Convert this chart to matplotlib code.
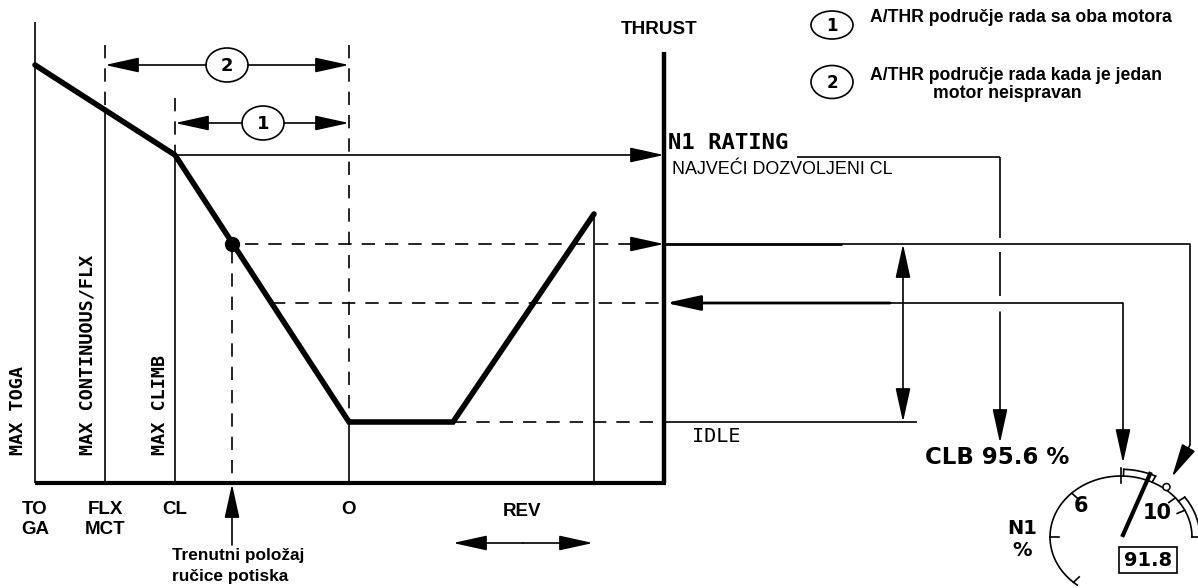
import matplotlib.pyplot as plt
from matplotlib.patches import Ellipse, Rectangle, Circle
import numpy as np

# thrust lever positions (px) and thrust level (px, image y grows down)
lever_x = [35, 105, 175, 349, 453, 594]
thrust_y = [65, 110, 155, 422, 422, 214]
detents = ["TO\nGA", "FLX\nMCT", "CL", "O"]
detent_x = [35, 105, 175, 349]
limit_labels = ["MAX TOGA", "MAX CONTINUOUS/FLX", "MAX CLIMB"]
current_x, current_y = 232, 244
lower_y = 303

fig = plt.figure(figsize=(11.98, 5.88), dpi=100)
ax = fig.add_axes([0, 0, 1, 1])
ax.set_xlim(0, 1198)
ax.set_ylim(588, 0)
ax.axis('off')

K = 'black'
DASH = (0, (8, 6))
mono = 'DejaVu Sans Mono'
sans = 'Liberation Sans'


def line(xs, ys, lw=1.2, ls='-'):
    ax.plot(xs, ys, color=K, lw=lw, ls=ls, solid_capstyle='butt')


def arrow(x0, y0, x1, y1, both=False, lw=1.2):
    style = '<|-|>' if both else '-|>'
    ax.annotate('', xy=(x1, y1), xytext=(x0, y0),
                arrowprops=dict(arrowstyle=style + ',head_length=1.5,head_width=0.33',
                                mutation_scale=14, color=K, lw=lw,
                                shrinkA=0, shrinkB=0))


# axes of the diagram
line([35, 666], [483, 483], lw=3)
line([664, 664], [52, 483], lw=3.2)
line([35, 35], [22, 483])
line([105, 105], [110, 483])
line([175, 175], [155, 483])
line([349, 349], [422, 483])
line([594, 594], [214, 483])

# thrust curve
ax.plot(lever_x, thrust_y, color=K, lw=4, solid_joinstyle='miter', solid_capstyle='round')
ax.plot(current_x, current_y, 'o', color=K, ms=10)

# dashed guides
line([105, 105], [45, 110], ls=DASH)
line([175, 175], [98, 155], ls=DASH)
line([349, 349], [45, 422], ls=DASH)
line([current_x, current_x], [250, 483], ls=DASH)
line([245, 630], [current_y, current_y], ls=DASH)
line([272, 664], [lower_y, lower_y], ls=DASH)
line([453, 664], [422, 422], ls=DASH)
line([664, 917], [422, 422])

# dimension arrows 1 and 2
for y, cx, lab, xl in [(65, 227, "2", 105), (123, 263, "1", 175)]:
    arrow(cx - 21, y, xl, y)
    arrow(cx + 21, y, 349, y)
    ax.add_patch(Ellipse((cx, y), 42, 34, fill=False, ec=K, lw=1.2))
    ax.text(cx, y + 1, lab, ha='center', va='center', fontsize=13,
            fontweight='bold', family='DejaVu Sans')

# N1 rating
arrow(175, 155, 664, 155)
ax.text(668, 143, "N1 RATING", fontsize=16, fontweight='bold', family=mono,
        ha='left', va='center')
ax.text(672, 170, "NAJVEĆI DOZVOLJENI CL", fontsize=12.9, family=sans,
        ha='left', va='center')
line([797, 1000], [157, 157])
line([1000, 1000], [157, 238])
line([1000, 1000], [252, 296])
arrow(1000, 312, 1000, 443)

# current lever thrust lines
arrow(630, current_y, 664, current_y)
line([664, 842], [current_y, current_y], lw=2)
line([842, 1190, 1190], [current_y, current_y, 445])
arrow(1190, 445, 1172, 477)

arrow(890, lower_y, 666, lower_y, lw=2)
line([888, 1123], [lower_y, lower_y])
arrow(1123, lower_y, 1123, 463)

arrow(903, 244, 903, 422, both=True)

# lever position arrow
arrow(current_x, 545, current_x, 484)
ax.text(172, 566, "Trenutni položaj\nručice potiska", fontsize=12.4,
        fontweight='bold', family=sans, ha='left', va='center', linespacing=1.45)

# rev arrow
arrow(523, 543, 453, 543)
arrow(523, 543, 593, 543)

# labels
ax.text(659, 30, "THRUST", fontsize=13.6, fontweight='bold', family=sans,
        ha='center', va='center')
ax.text(716, 437, "IDLE", fontsize=14.5, family=mono, ha='center', va='center')
ax.text(522, 512, "REV", fontsize=13.5, fontweight='bold', family=sans,
        ha='center', va='center')
for x, lab in zip(detent_x, detents):
    ax.text(x, 501, lab, fontsize=13.5, fontweight='bold', family=sans,
            ha='center', va='top', linespacing=1.25)

for x, lab in zip([18, 88, 160], limit_labels):
    ax.text(x, 455, lab, rotation=90, fontsize=13.3, fontweight='bold',
            family=mono, ha='center', va='bottom')

# legend
ax.add_patch(Ellipse((832, 25), 42, 28, fill=False, ec=K, lw=1.2))
ax.text(832, 26, "1", ha='center', va='center', fontsize=12, fontweight='bold')
ax.add_patch(Ellipse((832, 82), 42, 33, fill=False, ec=K, lw=1.2))
ax.text(832, 83, "2", ha='center', va='center', fontsize=12, fontweight='bold')
ax.text(870, 18, "A/THR područje rada sa oba motora", fontsize=12.7,
        fontweight='bold', family=sans, ha='left', va='center')
ax.text(870, 75, "A/THR područje rada kada je jedan", fontsize=12.7,
        fontweight='bold', family=sans, ha='left', va='center')
ax.text(933, 93, "motor neispravan", fontsize=12.7,
        fontweight='bold', family=sans, ha='left', va='center')

# CLB readout
ax.text(997, 458, "CLB 95.6 %", fontsize=16.5, fontweight='bold', family='DejaVu Sans',
        ha='center', va='center')

# N1 gauge
cx, cy, rx, ry = 1121, 537, 71, 61


def ell(t, s=1.0):
    t = np.radians(t)
    return cx + s * rx * np.cos(t), cy - s * ry * np.sin(t)


t = np.linspace(0, 232, 200)
ax.plot(*ell(t), color=K, lw=1.2)
for a, b in [(64, 88), (0, 36)]:
    t = np.linspace(a, b, 40)
    ax.plot(*ell(t, 1.11), color=K, lw=1.2)
for a in [88, 64, 36, 0]:
    p0, p1 = ell(a, 1.0), ell(a, 1.11)
    ax.plot([p0[0], p1[0]], [p0[1], p1[1]], color=K, lw=1.2)
for a in [180, 134, 90, 40, 26, 228]:
    p0, p1 = ell(a, 0.88), ell(a, 1.0)
    ax.plot([p0[0], p1[0]], [p0[1], p1[1]], color=K, lw=1.2)
p0, p1 = ell(90, 1.0), ell(90, 1.13)
ax.plot([p0[0], p1[0]], [p0[1], p1[1]], color=K, lw=1.2)
ax.add_patch(Circle(ell(52, 1.04), 3.5, fill=True, fc='white', ec=K, lw=1.1, zorder=3))
ax.plot([1123, 1150], [535, 474], color=K, lw=3)
ax.text(1081, 506, "6", fontsize=15, fontweight='bold', ha='center', va='center')
ax.text(1157, 513, "10", fontsize=15, fontweight='bold', ha='center', va='center')
ax.text(1022, 528, "N1", fontsize=14, fontweight='bold', ha='center', va='center')
ax.text(1022, 551, "%", fontsize=14, fontweight='bold', ha='center', va='center')
ax.add_patch(Rectangle((1119, 547), 58, 26, fill=True, fc='white', ec=K, lw=1.2, zorder=3))
ax.text(1148, 561, "91.8", fontsize=14, fontweight='bold', ha='center', va='center', zorder=4)

fig.savefig('out.png', dpi=100)
